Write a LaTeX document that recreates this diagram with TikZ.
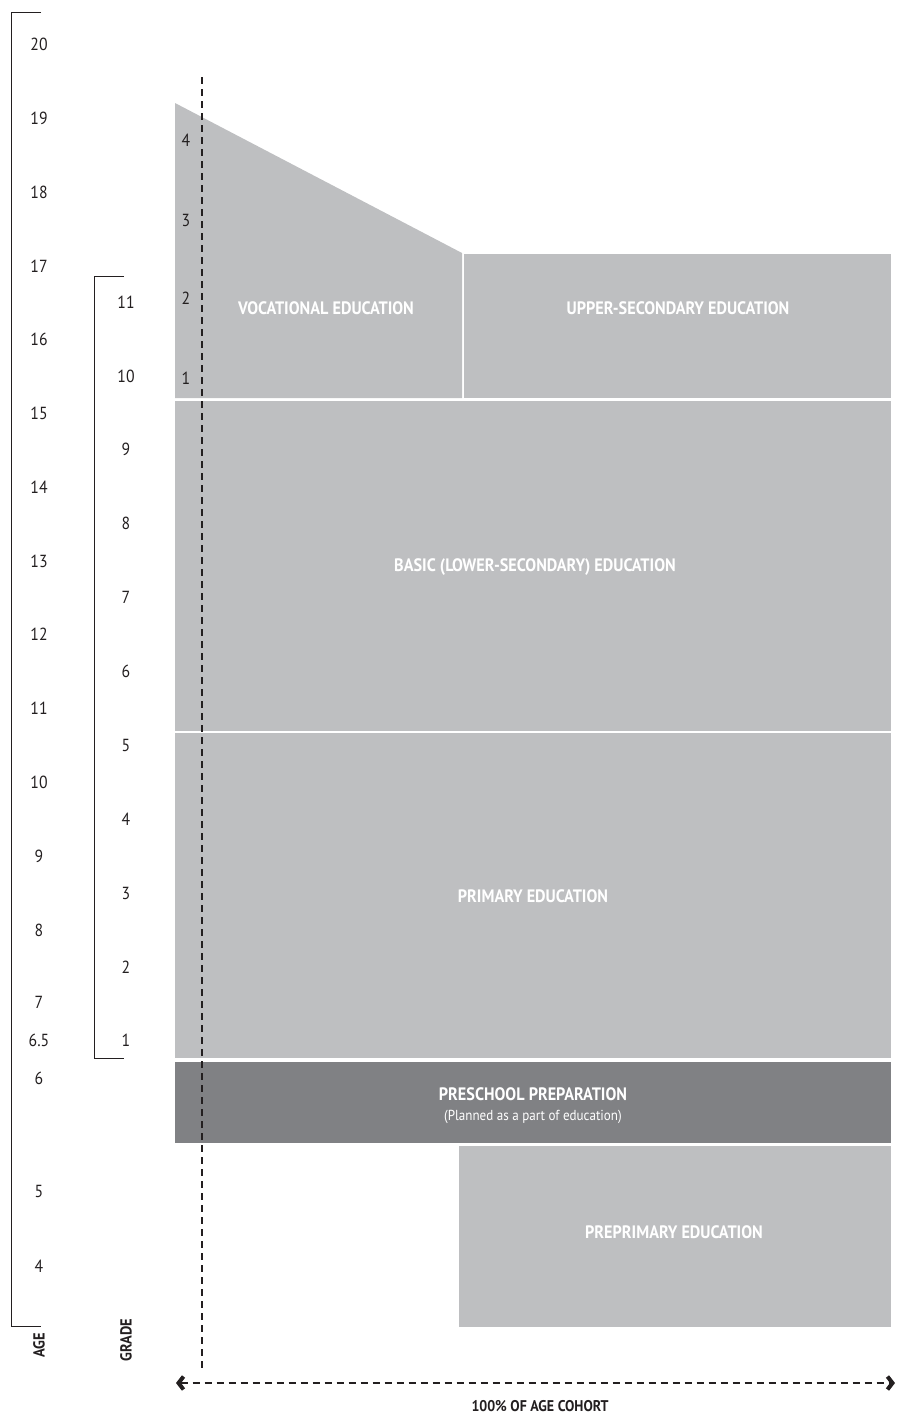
\documentclass[tikz,border=0pt]{standalone}
\usepackage{fontspec}
\setmainfont[FakeStretch=0.9]{PT Sans}
\usetikzlibrary{arrows.meta}
\definecolor{lightbox}{RGB}{190,191,193}
\definecolor{darkbox}{RGB}{128,129,132}
\definecolor{ink}{RGB}{35,31,32}
\tikzset{
  boxlabel/.style={text=white,font=\bfseries\fontsize{18}{20}\selectfont,inner sep=0pt},
  sublabel/.style={text=white,font=\fontsize{14.5}{16}\selectfont,inner sep=0pt},
  num/.style={text=ink,font=\fontsize{17.5}{19}\selectfont,inner sep=0pt},
  axislabel/.style={text=ink,font=\bfseries\fontsize{16}{18}\selectfont,inner sep=0pt,rotate=90},
  bracket/.style={draw=ink,line width=1pt},
  dashline/.style={draw=ink,line width=1.3pt,dash pattern=on 7pt off 5pt},
  chevron/.tip={Straight Barb[length=5pt,width=13pt,line width=4pt]},
}
\begin{document}
\begin{tikzpicture}[x=1pt,y=-1pt]
\useasboundingbox (0,0) rectangle (897,1416);
% boxes
\fill[lightbox] (175,103) -- (462,253) -- (462,398) -- (175,398) -- cycle;
\fill[lightbox] (464,254) rectangle (891,398);
\fill[lightbox] (175,401) rectangle (891,731);
\fill[lightbox] (175,733) rectangle (891,1058);
\fill[darkbox] (175,1062) rectangle (891,1143);
\fill[lightbox] (459,1146) rectangle (891,1327);
% box labels
\node[boxlabel] (voc) at (326,308) {VOCATIONAL EDUCATION};
\node[boxlabel] (upper) at (678,308) {UPPER-SECONDARY EDUCATION};
\node[boxlabel] (basic) at (535,567) {BASIC (LOWER-SECONDARY) EDUCATION};
\node[boxlabel] (prim) at (533,896) {PRIMARY EDUCATION};
\node[boxlabel] (presch) at (533,1094) {PRESCHOOL PREPARATION};
\node[sublabel] (preschsub) at (533,1117) {(Planned as a part of education)};
\node[boxlabel] (preprim) at (674,1232) {PREPRIMARY EDUCATION};
% vocational year labels
\node[num] (v4) at (186,140) {4};
\node[num] (v3) at (186,220) {3};
\node[num] (v2) at (186,298) {2};
\node[num] (v1) at (186,378) {1};
% age bracket
\draw[bracket] (41,12) -- (11,12) -- (11,1326) -- (41,1326);
\foreach \a/\y [count=\i] in {20/44,19/118,18/192,17/266,16/339,15/413,14/487,13/561,12/634,11/708,10/782,9/856,8/930,7/1002,6.5/1040,6/1078,5/1191,4/1266}
  \node[num] (age\i) at (39,\y) {\a};
\node[axislabel] (agelab) at (39,1345) {AGE};
% grade bracket
\draw[bracket] (124,276) -- (94,276) -- (94,1058) -- (124,1058);
\foreach \g/\y in {11/302,10/376,9/449,8/523,7/597,6/671,5/745,4/819,3/893,2/967,1/1040}
  \node[num] (grade\g) at (126,\y) {\g};
\node[axislabel] (gradelab) at (126,1340) {GRADE};
% dashed lines
\coordinate (vtop) at (202,77);
\coordinate (vbot) at (202,1370);
\draw[dashline] (vtop) -- (vbot);
\coordinate (hleft) at (176,1383);
\coordinate (hright) at (895,1383);
\draw[dashline,chevron-chevron] (hleft) -- (hright);
\node[text=ink,font=\bfseries\fontsize{15.5}{17}\selectfont,inner sep=0pt] (cohort) at (540,1406) {100\% OF AGE COHORT};
\end{tikzpicture}
\end{document}
